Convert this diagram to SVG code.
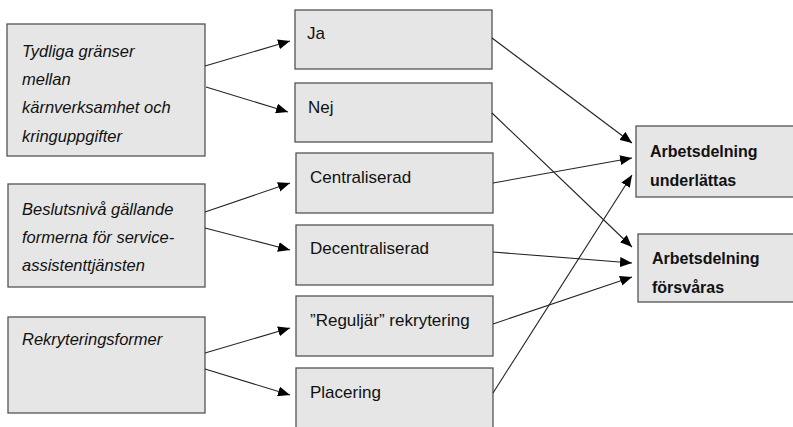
<svg xmlns="http://www.w3.org/2000/svg" width="793" height="427" viewBox="0 0 793 427">
<defs>
<marker id="arr" viewBox="0 0 12 10" refX="12" refY="5" markerWidth="12" markerHeight="10" markerUnits="userSpaceOnUse" orient="auto">
<path d="M0,0 L12,5 L0,10 Z" fill="#000"/>
</marker>
<style>
.box{fill:#e6e6e6;stroke:#555;stroke-width:1.3}
.it{font-family:"Liberation Sans",Arial,sans-serif;font-style:italic;font-size:16.5px;fill:#111}
.mid{font-family:"Liberation Sans",Arial,sans-serif;font-size:17px;fill:#111}
.bd{font-family:"Liberation Sans",Arial,sans-serif;font-weight:bold;font-size:16px;fill:#111}
.c{stroke:#222;stroke-width:1.1;fill:none;marker-end:url(#arr)}
</style>
</defs>
<rect width="793" height="427" fill="#fff"/>
<g id="n-tydliga">
<rect class="box" x="7" y="24" width="198" height="132"/>
<text class="it" x="22" y="57">Tydliga gränser</text>
<text class="it" x="22" y="85">mellan</text>
<text class="it" x="22" y="113">kärnverksamhet och</text>
<text class="it" x="22" y="142">kringuppgifter</text>
</g>
<g id="n-beslut">
<rect class="box" x="8" y="184" width="197" height="103"/>
<text class="it" x="22" y="215">Beslutsnivå gällande</text>
<text class="it" x="22" y="243">formerna för service-</text>
<text class="it" x="22" y="271">assistenttjänsten</text>
</g>
<g id="n-rekr">
<rect class="box" x="8" y="317" width="197" height="96"/>
<text class="it" x="22" y="345">Rekryteringsformer</text>
</g>
<g id="n-ja">
<rect class="box" x="295" y="10" width="197" height="59"/>
<text class="mid" x="307" y="39">Ja</text>
</g>
<g id="n-nej">
<rect class="box" x="295" y="83" width="197" height="59"/>
<text class="mid" x="308" y="113">Nej</text>
</g>
<g id="n-central">
<rect class="box" x="296" y="153" width="197" height="60"/>
<text class="mid" x="310" y="183">Centraliserad</text>
</g>
<g id="n-decentral">
<rect class="box" x="296" y="225" width="197" height="60"/>
<text class="mid" x="310" y="254">Decentraliserad</text>
</g>
<g id="n-regul">
<rect class="box" x="296" y="296" width="197" height="60"/>
<text class="mid" x="310" y="326">”Reguljär” rekrytering</text>
</g>
<g id="n-plac">
<rect class="box" x="296" y="368" width="197" height="70"/>
<text class="mid" x="310" y="398">Placering</text>
</g>
<g id="n-underl">
<rect class="box" x="636" y="126" width="170" height="71"/>
<text class="bd" x="650" y="157">Arbetsdelning</text>
<text class="bd" x="650" y="186">underlättas</text>
</g>
<g id="n-forsv">
<rect class="box" x="638" y="234" width="170" height="68"/>
<text class="bd" x="652" y="264">Arbetsdelning</text>
<text class="bd" x="652" y="293">försvåras</text>
</g>
<g id="connectors">
<line class="c" x1="205" y1="66" x2="290" y2="41"/>
<line class="c" x1="206" y1="87" x2="288" y2="112"/>
<line class="c" x1="205" y1="212" x2="290" y2="183"/>
<line class="c" x1="205" y1="228" x2="290" y2="250"/>
<line class="c" x1="205" y1="353" x2="290" y2="328"/>
<line class="c" x1="205" y1="369" x2="290" y2="395"/>
<line class="c" x1="492" y1="38" x2="632" y2="143"/>
<line class="c" x1="492" y1="113" x2="632" y2="247"/>
<line class="c" x1="493" y1="183" x2="632" y2="158"/>
<line class="c" x1="493" y1="252" x2="632" y2="263"/>
<line class="c" x1="493" y1="324" x2="632" y2="277"/>
<line class="c" x1="493" y1="393" x2="632" y2="175"/>
</g>
</svg>
